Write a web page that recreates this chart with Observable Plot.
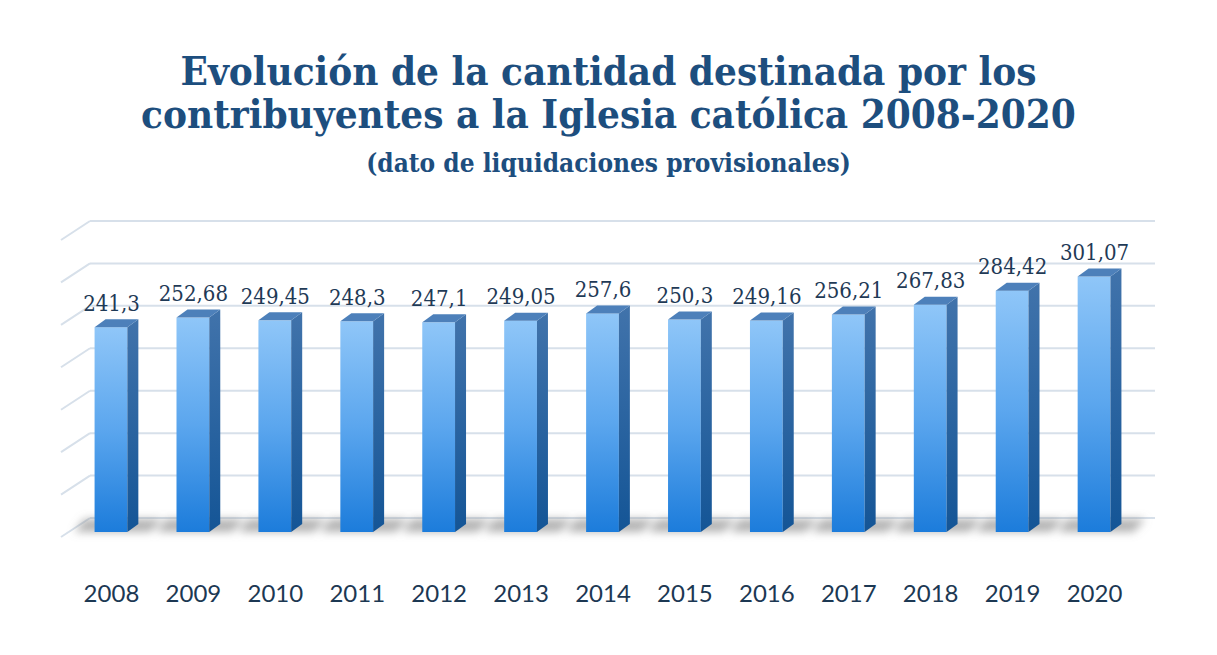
<!DOCTYPE html>
<html><head><meta charset="utf-8">
<script src="https://cdn.jsdelivr.net/npm/d3@7"></script>
<script src="https://cdn.jsdelivr.net/npm/@observablehq/plot@0.6"></script>
<style>
body{margin:0;background:#fff;width:1217px;height:655px;overflow:hidden;position:relative}
.t{position:absolute;left:0;width:1217px;text-align:center;font-weight:bold;color:#1d4e7e;line-height:1;white-space:nowrap;font-family:'DejaVu Serif';font-stretch:condensed}
#chart{position:absolute;left:0;top:190px}
</style></head><body>
<div class="t" style="top:51px;font-size:40px">Evolución de la cantidad destinada por los</div>
<div class="t" style="top:94px;font-size:40px">contribuyentes a la Iglesia católica 2008-2020</div>
<div class="t" style="top:150px;font-size:26px">(dato de liquidaciones provisionales)</div>
<div id="chart"></div>
<script>
const years = ["2008","2009","2010","2011","2012","2013","2014","2015","2016","2017","2018","2019","2020"];
const amounts = [241.3, 252.68, 249.45, 248.3, 247.1, 249.05, 257.6, 250.3, 249.16, 256.21, 267.83, 284.42, 301.07];
const valueLabels = ["241,3","252,68","249,45","248,3","247,1","249,05","257,6","250,3","249,16","256,21","267,83","284,42","301,07"];
const gridTicks = [0, 50, 100, 150, 200, 250, 300, 350];

const data = years.map((year, i) => ({year, amount: amounts[i], label: valueLabels[i]}));

const DX = 11, DY = 8;          // bar depth
const BX = 29, BY = 14, FY = 5; // floor depth (left wall)

function bandwidthOf(s) { return typeof s.bandwidth === "function" ? s.bandwidth() : s.bandwidth; }

function gridRender(index, scales, values, dims) {
  const g = d3.create("svg:g").attr("stroke", "#d7e0ea").attr("stroke-width", 2).attr("fill", "none");
  const xb0 = dims.marginLeft + 20, xb1 = dims.width - dims.marginRight + 20;
  for (const i of index) {
    const y = scales.y(gridTicks[i]);
    g.append("line").attr("x1", xb0).attr("x2", xb1).attr("y1", y - BY).attr("y2", y - BY);
    g.append("line").attr("x1", xb0 - BX).attr("y1", y + FY).attr("x2", xb0).attr("y2", y - BY);
  }
  return g.node();
}

function shadowRender(index, scales) {
  const g = d3.create("svg:g").attr("filter", "url(#blur)");
  const bw = bandwidthOf(scales.x);
  for (const i of index) {
    const x = scales.x(data[i].year), y0 = scales.y(0);
    g.append("path")
      .attr("d", `M${x - 20},${y0}L${x - 10},${y0 - 13}L${x + bw + DX + 24},${y0 - 13}L${x + bw + DX + 12},${y0}Z`)
      .attr("fill", "#8c8c8c").attr("opacity", 0.65);
  }
  return g.node();
}

function barRender(index, scales) {
  const g = d3.create("svg:g");
  const bw = bandwidthOf(scales.x);
  for (const i of index) {
    const x = scales.x(data[i].year), y = scales.y(data[i].amount), y0 = scales.y(0);
    g.append("rect").attr("x", x).attr("y", y).attr("width", bw).attr("height", y0 - y).attr("fill", "url(#front)");
    g.append("path").attr("d", `M${x + bw},${y}L${x + bw + DX},${y - DY}L${x + bw + DX},${y0 - DY}L${x + bw},${y0}Z`).attr("fill", "url(#side)");
    g.append("path").attr("d", `M${x},${y}L${x + DX},${y - DY}L${x + bw + DX},${y - DY}L${x + bw},${y}Z`).attr("fill", "#4d80ba");
  }
  return g.node();
}

const plot = Plot.plot({
  width: 1217, height: 465,
  marginLeft: 70, marginRight: 82, marginTop: 45, marginBottom: 123,
  x: {domain: years, paddingInner: 0.6, paddingOuter: 0.3, round: false, label: null},
  y: {domain: [0, 350], axis: null},
  marks: [
    Plot.ruleY(gridTicks, {y: d => d, render: gridRender}),
    Plot.barY(data, {x: "year", y: "amount", render: shadowRender}),
    Plot.barY(data, {x: "year", y: "amount", render: barRender}),
    Plot.text(data, {x: "year", y: "amount", text: "label", dy: -17, lineAnchor: "bottom",
      fontFamily: "DejaVu Serif", fontSize: 22, fill: "#1f3a56"}),
    Plot.axisX({tickSize: 0, tickPadding: 52, fontSize: 24, fontFamily: "Lato", color: "#1c3853", label: null})
  ]
});

const svg = d3.select(plot);
const defs = svg.insert("defs", ":first-child");
const fg = defs.append("linearGradient").attr("id", "front").attr("x1", 0).attr("y1", 0).attr("x2", 0).attr("y2", 1);
fg.append("stop").attr("offset", 0).attr("stop-color", "#8fc6f8");
fg.append("stop").attr("offset", 0.5).attr("stop-color", "#5ba6ee");
fg.append("stop").attr("offset", 1).attr("stop-color", "#1c7cdb");
const sg = defs.append("linearGradient").attr("id", "side").attr("x1", 0).attr("y1", 0).attr("x2", 0).attr("y2", 1);
sg.append("stop").attr("offset", 0).attr("stop-color", "#4173ab");
sg.append("stop").attr("offset", 1).attr("stop-color", "#145596");
defs.append("filter").attr("id", "blur").attr("x", "-50%").attr("y", "-100%").attr("width", "200%").attr("height", "300%")
  .append("feGaussianBlur").attr("stdDeviation", 4);
svg.style("font-family", "Lato");
svg.selectAll("text").filter(function() { return this.closest("[aria-label='text']"); }).style("font-stretch", "condensed");

document.getElementById("chart").appendChild(plot);
</script>
</body></html>
